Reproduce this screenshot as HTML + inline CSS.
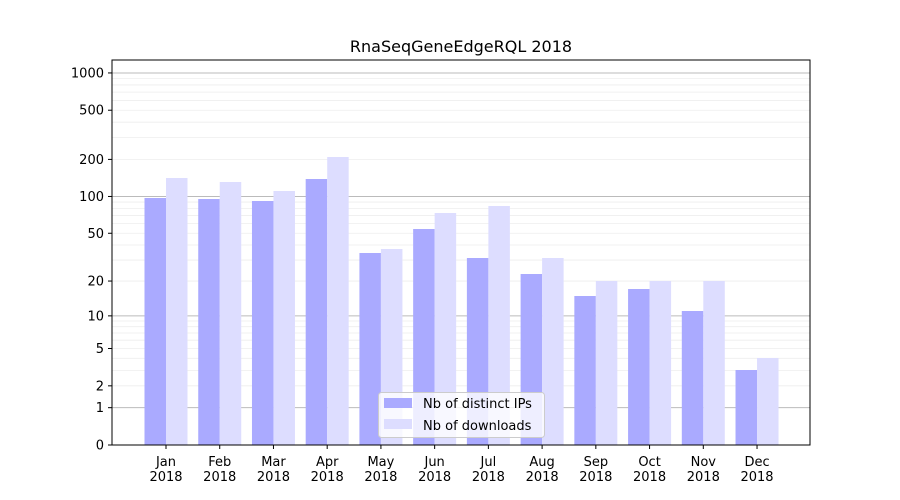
<!DOCTYPE html>
<html><head><style>body{margin:0;background:#fff}svg{display:block;font-family:"DejaVu Sans","Liberation Sans",sans-serif}</style></head>
<body>
<svg id="s" width="900" height="500" xmlns="http://www.w3.org/2000/svg">
<rect width="900" height="500" fill="#fff"/>
<g id="grid"></g>
<g id="bars"></g>
<rect x="112" y="60" width="698" height="385" fill="none" stroke="#000" stroke-width="1"/>
<g id="ticks" font-size="13" fill="#000"></g>
<text x="461" y="52" text-anchor="middle" font-size="16">RnaSeqGeneEdgeRQL 2018</text>
<g>
<rect x="378.5" y="392.5" width="166" height="45" rx="3" fill="#fff" fill-opacity="0.8" stroke="#ccc"/>
<rect x="384" y="398" width="28" height="10" fill="#aaaaff"/>
<rect x="384" y="419" width="28" height="10" fill="#ddddff"/>
<text x="423" y="408" font-size="13">Nb of distinct IPs</text>
<text x="423" y="430" font-size="13">Nb of downloads</text>
</g>
</svg>
<script>
const Y=v=>445-124*Math.log10(1+v);
let g='';
for(const d of [1,10,100,1000]){for(let k=1;k<10;k++){const v=d*k;const y=Y(v);if(y<60)continue;
g+=`<line x1="112" x2="810" y1="${y}" y2="${y}" stroke="${k==1?'#bbb':'#eee'}" stroke-width="${k==1?1:0.8}"/>`;}}
document.getElementById('grid').innerHTML=g;
const tops=[[198,178],[199,182],[201,191],[179,157],[253,249],[229,213],[258,206],[274,258],[296,281],[289,281],[311,281],[370,358]];
const m=['Jan','Feb','Mar','Apr','May','Jun','Jul','Aug','Sep','Oct','Nov','Dec'];
let b='',t='';
tops.forEach((p,i)=>{const c=166+i*53.73;
b+=`<rect x="${c-21.5}" y="${p[0]}" width="21.5" height="${445-p[0]}" fill="#aaaaff"/>`;
b+=`<rect x="${c}" y="${p[1]}" width="21.5" height="${445-p[1]}" fill="#ddddff"/>`;
t+=`<line x1="${c}" x2="${c}" y1="445" y2="449" stroke="#000"/>`;
t+=`<text x="${c}" y="466" text-anchor="middle">${m[i]}</text><text x="${c}" y="481" text-anchor="middle">2018</text>`;});
document.getElementById('bars').innerHTML=b;
for(const v of [0,1,2,5,10,20,50,100,200,500,1000]){const y=Y(v);
t+=`<line x1="108" x2="112" y1="${y}" y2="${y}" stroke="#000"/><text x="104" y="${y+4.5}" text-anchor="end">${v}</text>`;}
document.getElementById('ticks').innerHTML=t;
</script>
</body></html>
